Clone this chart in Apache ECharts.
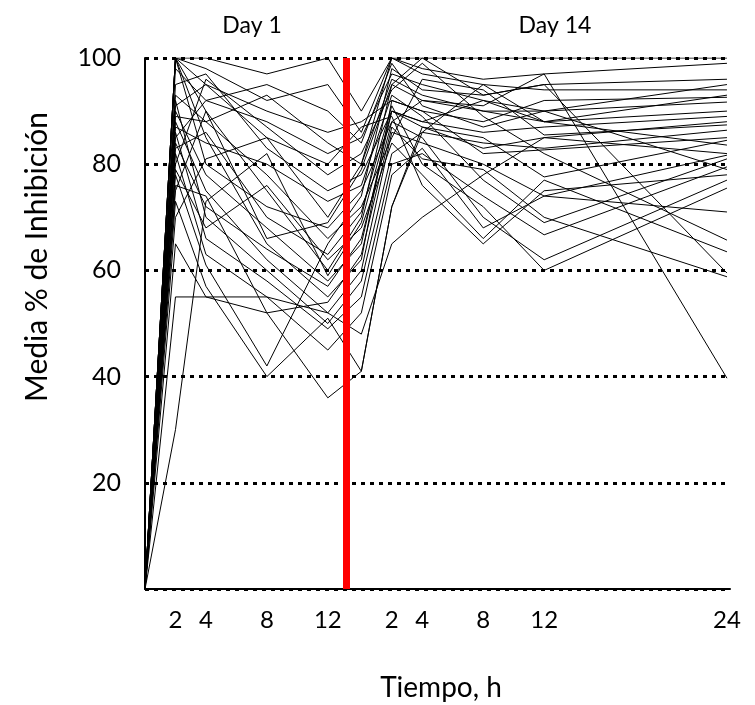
<!DOCTYPE html>
<html>
<head>
<meta charset="utf-8">
<script src="https://cdn.jsdelivr.net/npm/echarts@6/dist/echarts.min.js"></script>
<style>
html,body{margin:0;padding:0;background:#fff;}
#chart{width:755px;height:705px;}
</style>
</head>
<body>
<div id="chart"></div>
<script>
// Sampling times (hours)
const day1Hours = [0, 2, 4, 8, 12];
const day14Hours = [0, 2, 4, 8, 12, 24];
const day14Offset = 14.2;      // where day-14 hour 0 sits on the shared time axis
const dividerAt = 13.2;        // red separator between Day 1 and Day 14
const yTicks = [20, 40, 60, 80, 100];

// Per-subject mean % inhibition: day1 (0,2,4,8,12 h) then day14 (0,2,4,8,12,24 h)
const s01 = [0,100,100,97,100, 90,100,100,100,100,100];
const s02 = [0,100,98,92,95, 86,100,98,96,97,99];
const s03 = [0,100,90,75,60, 70,95,100,93,95,96];
const s04 = [0,100,95,85,70, 80,100,97,95,94,94];
const s05 = [0,100,85,65,55, 62,92,90,88,92,92.6];
const s06 = [0,100,80,72,68, 75,88,92,90,90,91.7];
const s07 = [0,98,92,88,82, 85,97,95,92,88,90];
const s08 = [0,95,97,83,75, 78,90,88,86,87,89];
const s09 = [0,93,88,78,66, 72,85,96,94,85.5,87.4];
const s10 = [0,92,70,60,50, 58,82,86,84,83,86.4];
const s11 = [0,91,95,90,86, 88,92,90,82,82.7,85];
const s12 = [0,90,78,68,58, 65,90,87,85,77.6,84.5];
const s13 = [0,89,88,93,84, 80,96,93,90,88,83.6];
const s14 = [0,88,75,62,52, 60,86,84,80,74,81.7];
const s15 = [0,87,84,80,73, 76,93,89,77,69,81];
const s16 = [0,86,66,58,49, 55,80,82,74,66.7,79.5];
const s17 = [0,85,92,95,90, 84,99,91,87,90,79];
const s18 = [0,84,72,64,57, 66,88,85,70,62,77];
const s19 = [0,83,86,70,63, 71,91,80,72,60,75.5];
const s20 = [0,82,63,55,45, 52,78,83,68,74,71];
const s21 = [0,80,96,87,78, 82,94,99,89,82,65.7];
const s22 = [0,79,68,76,62, 68,84,78,66,77,63.5];
const s23 = [0,78,61,42,65, 74,98,94,93,95,59.5];
const s24 = [0,76,74,52,54, 63,87,81,79,70,58.8];
const s25 = [0,75,90,66,69, 79,95,92,91,97,39.7];
const s26 = [0,73,57,40,51, 41,72,87,83,85,82];
const s27 = [0,70,81,85,80, 87,89,76,65,75,78];
const s28 = [0,65,55,55,52, 48,65,70,78,85,88];
const s29 = [0,55,55,52,36, 41,72,86,95,88,93];
const s30 = [0,30,73,82,59, 69,90,88,92,90,95];

const subjects = [s01,s02,s03,s04,s05,s06,s07,s08,s09,s10,s11,s12,s13,s14,s15,
                  s16,s17,s18,s19,s20,s21,s22,s23,s24,s25,s26,s27,s28,s29,s30];

const timeAxis = day1Hours.concat(day14Hours.map(h => h + day14Offset));
const labelValues = day1Hours.slice(1).concat(day14Hours.slice(1).map(h => h + day14Offset));
const labelText = {};
day1Hours.slice(1).forEach(h => labelText[h.toFixed(2)] = String(h));
day14Hours.slice(1).forEach(h => labelText[(h + day14Offset).toFixed(2)] = String(h));

const FONT = 'Lato';

const series = subjects.map((vals, i) => ({
  type: 'line',
  data: vals.map((v, j) => [timeAxis[j], v]),
  symbol: 'none',
  lineStyle: { color: '#000', width: 1 },
  z: 2,
  silent: true
}));
series[0].markLine = {
  silent: true,
  symbol: 'none',
  label: { show: false },
  lineStyle: { color: '#ff0000', width: 7, type: 'solid' },
  data: [{ xAxis: dividerAt }],
  z: 5
};

const chart = echarts.init(document.getElementById('chart'));
chart.setOption({
  animation: false,
  backgroundColor: '#fff',
  grid: { left: 145, right: 25, top: 58, bottom: 116, containLabel: false },
  xAxis: {
    type: 'value',
    min: 0,
    max: 38.4,
    axisLine: { show: true, lineStyle: { color: '#000', width: 2 } },
    axisTick: { show: false },
    splitLine: { show: false },
    axisLabel: {
      customValues: labelValues,
      formatter: v => labelText[Number(v).toFixed(2)] || '',
      color: '#000',
      fontSize: 24,
      fontFamily: FONT,
      margin: 19
    }
  },
  yAxis: {
    type: 'value',
    min: 0,
    max: 100,
    interval: 20,
    axisLine: { show: true, lineStyle: { color: '#000', width: 2 } },
    axisTick: { show: false },
    axisLabel: {
      formatter: v => (yTicks.indexOf(v) >= 0 ? String(v) : ''),
      color: '#000',
      fontSize: 25,
      fontFamily: FONT,
      margin: 24
    },
    splitLine: { show: true, lineStyle: { color: '#000', width: 3, type: [4, 5] } }
  },
  graphic: [
    { type: 'text', x: 252, y: 26, style: { text: 'Day 1', fontSize: 23, fontFamily: FONT, fill: '#000', align: 'center', verticalAlign: 'middle' } },
    { type: 'text', x: 555, y: 26, style: { text: 'Day 14', fontSize: 23, fontFamily: FONT, fill: '#000', align: 'center', verticalAlign: 'middle' } },
    { type: 'text', x: 37, y: 257, rotation: Math.PI / 2,
      style: { text: 'Media % de Inhibición', fontSize: 30, fontFamily: FONT, fill: '#000', align: 'center', verticalAlign: 'middle' } },
    { type: 'text', x: 441, y: 688,
      style: { text: 'Tiempo, h', fontSize: 28, fontFamily: FONT, fill: '#000', align: 'center', verticalAlign: 'middle' } }
  ],
  series: series
});
</script>
</body>
</html>
